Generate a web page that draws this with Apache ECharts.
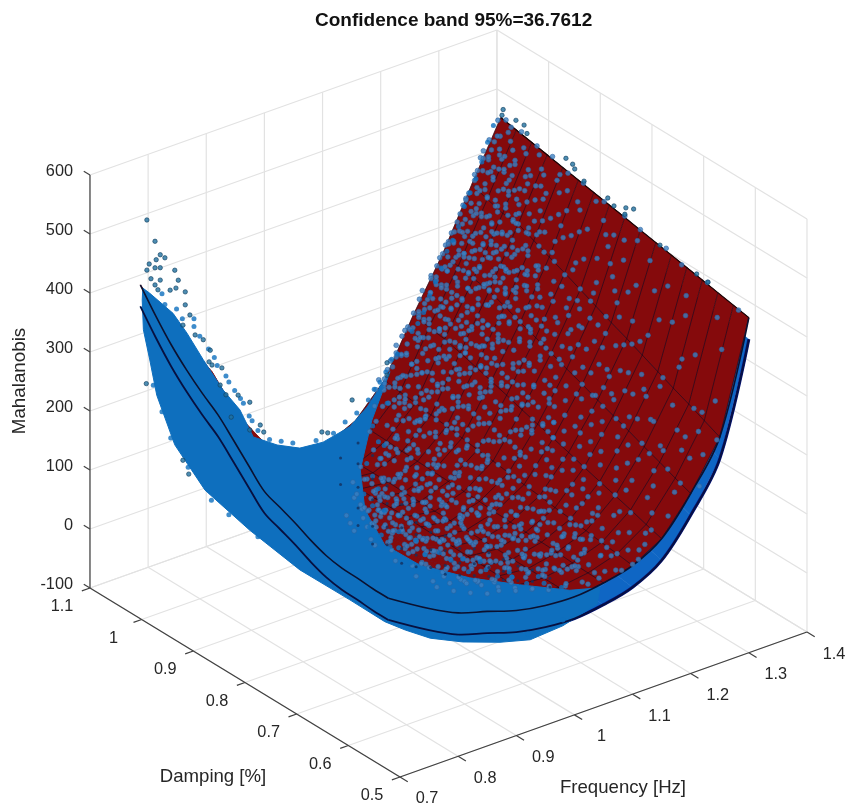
<!DOCTYPE html>
<html><head><meta charset="utf-8">
<style>html,body{margin:0;padding:0;background:#fff}#c{width:845px;height:808px}</style>
<script src="https://cdn.jsdelivr.net/npm/echarts@6/dist/echarts.min.js"></script>
</head><body><div id="c"></div>
<script>
const chartTitle='Confidence band 95%=36.7612';
const confidenceBand=36.7612;
const zTicks=[-100,0,100,200,300,400,500,600];
const dampingTicks=[0.5,0.6,0.7,0.8,0.9,1,1.1];
const frequencyTicks=[0.7,0.8,0.9,1,1.1,1.2,1.3,1.4];
const freqGrid=[0.68,0.75,0.8,0.85,0.9,0.95,1,1.05,1.1,1.15,1.2,1.25,1.3];
const dampGrid=[0.5,0.53,0.56,0.59,0.62,0.65,0.68,0.71,0.74,0.77,0.8,0.83,0.86,0.89,0.92,0.95,0.98];
const surfaceZ=[
[210,210,212,213,218,228,241,252,263,290,318,345,365,388,415,448,485],
[168,174,182,190,199,210,222,234,246,265,270,275,295,315,345,360,375],
[143,154,165,175,186,197,208,218,229,240,245,235,225,225,245,262,270],
[128,134,140,146,152,157,163,169,175,181,187,190,190,190,180,183,185],
[112,114,116,118,120,122,124,126,128,130,132,132,132,130,128,126,125],
[103,104,104,105,106,106,107,107,108,109,109,108,108,107,106,105,104],
[100,100,100,100,100,101,101,101,101,101,101,101,102,102,102,102,102],
[106,107,108,110,111,112,113,114,116,117,118,119,120,121,123,124,125],
[118,122,125,129,133,136,140,143,147,151,154,158,162,165,169,172,176],
[146,154,163,171,179,187,196,204,212,220,229,237,245,253,260,264,270],
[205,215,226,236,247,257,267,278,288,299,309,319,330,340,345,350,355],
[283,295,307,318,330,342,354,365,377,389,401,412,424,436,438,446,455],
[468,473,478,484,489,494,499,504,510,515,520,525,530,536,541,546,551]];
const cloudOutline=[
[.702,1,461],[.714,1,448],[.754,1,400],[.778,1,358],[.806,1,303],[.84,1,240],[.869,1,196],[.892,1,142],[.933,1,114],[.972,1,95],[1.012,1,91],[1.058,1,101],[1.088,1,124],[1.127,1,170],[1.096,1,99],[1.076,1,22],[1.084,1,-49],
[.896,.75,91],[.956,.75,36],[1.042,.75,-16],[1.128,.75,-58],
[.992,.5,114],[1.044,.5,100],[1.039,.5,74],[.98,.5,58],[.924,.5,54],[.872,.5,68],[.808,.5,91],[.752,.5,117],[.709,.5,146],
[.896,.75,-39],[.836,.75,19],[.75,.75,100],
[.886,1,-14],[.809,1,81],[.757,1,176],[.726,1,271],[.714,1,335],[.703,1,390],[.701,1,441]];
const outlierPoints=[
[.709,1,574],[.723,1,533],[.732,1,507],[.713,1,498],[.709,1,489],[.725,1,501],[.723,1,488],[.757,1,472],[.763,1,453],[.74,1,499],[.732,1,485],[.732,1,464],[.716,1,472],[.723,1,459],[.775,1,429],[.728,1,449],[.749,1,441],[.759,1,441],[.783,1,387],[.792,1,350],[.775,1,407],[.771,1,374],[.806,1,337],[.818,1,315],[.816,1,296],[.821,1,289],[.838,1,278],[.835,1,250],[.866,1,222],[.845,1,230],[.886,1,203],[.886,1,156],[.904,1,158],[.91,1,144],[.854,1,189],[1.062,1,145],[1.01,1,109],[1.02,1,104],[1.122,1,166],[1.122,1,187],[.708,1,297],[.771,1,145],[.781,1,118],
[1.304,.98,563],[1.302,.98,554],[1.326,.98,537],[1.34,.98,524],[1.345,.98,508],
[1.3,.854,549],[1.3,.841,546],[1.3,.837,540],[1.3,.819,529],[1.3,.773,525],[1.3,.761,518],[1.3,.738,527],[1.3,.723,533],[1.3,.74,515],[1.3,.672,499],[1.3,.601,488],[1.3,.579,486]];
const cloudEdgeBlue=[
[.72,1,430],[.74,1,420],[.76,1,405],[.77,1,385],[.79,1,365],[.8,1,345],[.815,1,318],[.83,1,285],[.85,1,250],[.86,1,232],[.875,1,205],[.885,1,180],[.9,1,150],[.92,1,128],[.94,1,118],[.96,1,108],[1,1,98],[1.03,1,100],[1.05,1,112],[1.07,1,120],[1.09,1,135],[1.1,1,150],[1.12,1,172],[1.14,1,195],[1.165,1,225],[1.185,1,250],[1.195,1,275],[1.215,1,315],[1.225,1,340],[1.245,1,375],[1.255,1,405],[1.275,1,445],[1.285,1,470],[1.295,1,500],[1.305,1,525],
[.735,1,440],[.79,1,378],[.825,1,300],[.845,1,262],[.87,1,215],[.89,1,170],[1.11,1,158],[1.13,1,190],[1.175,1,235],[1.205,1,295],[1.235,1,355],[1.265,1,425],
[.89,.75,360],[.875,.75,300],[.885,.75,270],[.865,.75,240],[.875,.75,215],[.86,.75,190],[.875,.75,165],[.87,.75,130],[.89,.75,110],[.905,.75,85],[.92,.75,78],[.94,.75,45],[.965,.75,50],[.985,.75,15],[1.01,.75,25],[1.04,.75,-5],[1.06,.75,5],[1.09,.75,-30],[1.115,.75,-40],[1.14,.75,-60],[1.17,.75,-70],[1.2,.75,-88],
[.9,.75,330],[.895,.75,260],[.885,.75,190],[.895,.75,150],[.92,.75,105],[.95,.75,80],[.99,.75,45],[1.03,.75,20],[1.07,.75,-12],[1.11,.75,-30],[1.16,.75,-55],
[.75,1,190],[.735,1,240],[.72,1,290],[.78,1,130],[.82,1,60],[.85,1,25],[.9,1,-30],[.8,.5,100],[.86,.5,80],[.92,.5,65],[.98,.5,68]];
const cloudSpecks=[
[.82,.75,265],[.82,.75,220],[.85,.75,280],[.85,.75,245],[.85,.75,205],[.85,.75,170],[.85,.75,140],[.875,.75,250],[.875,.75,210],[.875,.75,175],[.875,.75,130],[.875,.75,100],[.9,.75,190],[.9,.75,160],[.9,.75,120],[.9,.75,90],[.925,.75,150],[.925,.75,110],[.925,.75,75],[.925,.75,50],[.95,.75,110],[.95,.75,90],[.95,.75,55],[.95,.75,35],[.975,.75,85],[.975,.75,55],[.975,.75,25],[1,.75,70],[1,.75,45],[1,.75,20],[1,.75,5],[1.025,.75,40],[1.025,.75,15],[1.025,.75,-5],[1.05,.75,30],[1.05,.75,5],[1.05,.75,-15],[1.075,.75,15],[1.075,.75,-10],[1.075,.75,-25],[1.1,.75,-5],[1.1,.75,-25],[1.1,.75,-40],[1.125,.75,-25],[1.125,.75,-50],[1.15,.75,-40],[1.15,.75,-60],[1.18,.75,-65],[1.18,.75,-80]];
const cloudLevels=[1.3,1.29,1.28,1.27,1.26,1.25,1.24,1.23,1.22,1.21,1.2,1.18,1.16,1.14,1.12,1.1,1.08,1.06,1.04,1.02,1,.98,.96,.94,.92,.9,.88,.86];
const cloudAtLevel=[
[.52,470,.58,485,.63,488,.66,500,.71,505,.74,512,.78,515,.82,525,.85,526,.88,538,.91,540,.94,548,.96,545,.97,552],
[.55,445,.61,450,.68,472,.73,480,.77,492,.82,497,.86,512,.89,515,.92,525,.95,530,.97,528,.84,505,.75,478],
[.53,405,.6,425,.66,435,.72,455,.79,470,.83,480,.87,488,.9,502,.93,505,.96,515,.98,520,.75,462,.88,495],
[.57,378,.64,400,.7,415,.76,440,.81,452,.85,460,.88,475,.91,478,.94,490,.97,495,.73,425,.83,458],
[.52,330,.59,350,.65,372,.71,395,.75,408,.79,420,.83,435,.87,448,.9,460,.92,465,.95,475,.97,480,.68,380,.85,440,.93,470],
[.55,305,.61,325,.67,350,.72,370,.77,390,.8,398,.84,415,.87,430,.9,438,.93,445,.95,450,.97,455,.75,380,.82,410,.89,436],
[.53,280,.58,298,.64,318,.69,340,.74,360,.78,372,.81,385,.84,395,.87,408,.89,412,.91,415,.93,420,.95,426,.97,432,.71,350,.76,365,.86,402],
[.51,255,.56,270,.62,295,.67,312,.72,335,.77,352,.8,360,.83,372,.86,385,.88,392,.9,395,.92,398,.94,402,.96,408,.98,412,.75,345,.85,378,.91,396],
[.54,250,.6,270,.65,292,.7,310,.74,322,.78,338,.81,348,.84,360,.86,368,.89,375,.91,378,.93,382,.95,385,.97,392,.68,300,.76,330,.83,355,.88,372],
[.57,245,.63,262,.68,285,.72,298,.76,312,.79,322,.82,332,.85,345,.87,352,.9,358,.92,362,.94,366,.96,368,.98,372,.66,275,.74,305,.81,330,.88,356,.95,368],
[.52,212,.58,230,.63,250,.67,262,.71,278,.75,290,.78,302,.81,312,.84,322,.86,330,.88,335,.9,342,.92,345,.94,348,.96,352,.98,355,.69,270,.77,298,.83,320,.89,340,.93,348],
[.55,198,.6,210,.65,232,.69,240,.72,252,.75,262,.78,270,.8,278,.82,284,.84,290,.86,298,.88,302,.9,310,.92,315,.94,318,.96,320,.98,325,.67,238,.74,258,.79,274,.85,295,.89,305,.93,318,.97,322,.62,220],
[.53,170,.58,182,.63,198,.67,208,.7,218,.73,225,.76,235,.78,240,.8,248,.82,252,.84,258,.86,262,.88,270,.9,276,.92,282,.94,285,.96,288,.98,292,.65,205,.72,222,.77,238,.81,250,.85,262,.89,272,.93,285,.97,290,.6,188],
[.52,148,.57,158,.61,168,.64,175,.68,188,.71,190,.74,200,.77,208,.79,212,.81,216,.83,222,.85,228,.87,232,.89,238,.91,240,.93,248,.95,250,.97,256,.66,180,.7,192,.75,205,.8,215,.84,224,.88,234,.92,246,.96,252],
[.51,132,.55,140,.59,148,.62,152,.65,158,.68,165,.71,168,.73,172,.75,178,.77,180,.79,186,.81,186,.83,192,.85,194,.87,200,.89,202,.91,206,.93,208,.95,212,.97,216,.6,146,.64,156,.69,162,.74,175,.78,182,.82,190,.86,196,.9,205,.94,210,.98,215],
[.5,120,.53,122,.56,128,.58,126,.6,132,.62,134,.64,135,.66,140,.68,138,.7,145,.72,144,.74,150,.76,150,.78,155,.8,152,.82,160,.84,158,.86,165,.88,162,.9,168,.92,170,.94,172,.96,175,.98,178,.55,122,.61,128,.67,144,.73,146,.79,150,.85,164,.91,165,.95,178],
[.51,112,.54,120,.57,115,.59,125,.61,120,.63,128,.65,125,.67,130,.69,136,.71,128,.73,138,.75,134,.77,145,.79,140,.81,138,.83,150,.85,145,.87,152,.89,146,.91,155,.93,150,.95,160],
[.52,100,.54,112,.56,98,.58,118,.6,108,.62,120,.64,105,.65,125,.67,112,.69,122,.7,110,.72,130,.74,115,.75,128,.77,118,.79,135,.8,120,.82,130,.84,122,.85,138,.87,125,.89,135,.91,128,.93,140],
[.53,95,.55,110,.57,90,.59,112,.61,100,.63,118,.64,92,.66,108,.68,120,.7,98,.71,115,.73,102,.75,125,.76,95,.78,112,.8,105,.82,125,.83,100,.85,118,.87,108,.89,128,.91,110],
[.54,90,.56,108,.58,85,.6,112,.62,95,.64,118,.65,88,.67,104,.69,115,.71,92,.73,110,.74,85,.76,118,.78,98,.8,112,.81,88,.83,108,.85,120,.87,95,.89,110],
[.55,85,.57,110,.59,92,.61,120,.63,80,.65,105,.67,95,.68,118,.7,85,.72,108,.74,92,.75,122,.77,88,.79,105,.81,115,.83,90,.85,108,.87,98],
[.56,88,.58,112,.6,78,.62,100,.64,118,.66,85,.68,105,.7,92,.71,120,.73,80,.75,108,.77,95,.79,118,.81,85,.83,105,.85,95],
[.57,92,.59,115,.61,80,.63,105,.65,122,.67,88,.69,110,.7,95,.72,125,.74,85,.76,112,.78,98,.8,120,.82,90,.84,108],
[.58,95,.6,118,.62,82,.64,108,.66,125,.68,90,.7,112,.72,98,.73,128,.75,88,.77,115,.79,100,.81,125,.83,92],
[.59,100,.61,122,.63,88,.65,112,.67,130,.69,95,.71,118,.73,105,.75,132,.77,95,.79,120,.81,108],
[.6,108,.62,128,.64,95,.66,120,.68,138,.7,105,.72,128,.74,115,.76,140,.78,110],
[.62,120,.64,145,.66,115,.68,135,.7,155,.72,125,.74,150],
[.63,135,.65,165,.67,140,.69,160,.71,180,.73,150]];
const cloudLevelsB=[1.295,1.285,1.275,1.265,1.255,1.245,1.235,1.225,1.215,1.205,1.19,1.17,1.15,1.13,1.11,1.09,1.07,1.05,1.03,1.01,.99,.97,.95,.93,.91,.89,.87];
const cloudAtLevelB=[
[.79,512,.86,520,.9,532,.93,528,.96,538,.98,548,.71,488],
[.76,475,.81,490,.85,498,.88,512,.91,505,.94,522,.97,530,.64,452],
[.74,440,.8,462,.84,470,.87,480,.9,490,.93,488,.95,505,.97,510,.62,405,.69,430],
[.72,408,.78,430,.82,445,.86,452,.89,468,.91,462,.93,478,.96,482,.98,495,.59,362],
[.7,378,.75,392,.79,410,.83,418,.86,432,.88,425,.9,445,.92,452,.94,448,.96,465,.98,470,.66,358,.54,302],
[.68,345,.73,352,.77,372,.8,380,.83,395,.85,388,.87,412,.9,418,.92,425,.94,425,.96,435,.98,442,.61,312,.5,280],
[.66,312,.71,328,.75,340,.78,358,.81,365,.84,380,.86,372,.88,395,.9,398,.92,408,.94,408,.96,418,.98,425,.63,300,.55,262],
[.64,290,.69,305,.73,318,.76,335,.79,340,.82,358,.85,362,.87,375,.89,372,.91,385,.93,390,.95,392,.97,402,.6,265,.53,240],
[.62,262,.67,278,.71,292,.75,312,.78,320,.8,335,.83,340,.86,352,.88,362,.9,362,.92,372,.94,375,.96,378,.98,385,.57,235,.5,212],
[.6,235,.65,250,.69,268,.73,285,.76,292,.79,310,.82,315,.84,332,.86,335,.88,345,.9,345,.92,355,.94,358,.96,358,.98,368,.55,218],
[.52,200,.56,215,.59,218,.63,235,.66,245,.68,252,.71,265,.73,268,.76,285,.78,285,.8,298,.82,300,.84,315,.86,315,.88,325,.9,325,.92,332,.94,332,.96,340,.97,338,.61,232,.7,262,.75,272,.85,322],
[.51,172,.55,182,.58,195,.61,200,.64,212,.66,218,.69,228,.71,236,.73,240,.75,252,.77,252,.79,268,.81,262,.83,280,.85,275,.87,288,.89,285,.91,298,.93,298,.95,305,.97,305,.68,222,.74,248,.8,262,.86,285,.9,292,.94,305],
[.52,150,.56,158,.59,172,.62,175,.65,188,.67,190,.69,205,.71,205,.73,218,.75,215,.77,230,.79,228,.81,245,.83,240,.85,252,.87,255,.89,265,.91,262,.93,272,.95,270,.97,275,.72,210,.78,235,.84,245,.88,258,.92,268,.96,272],
[.51,138,.54,142,.57,155,.6,152,.63,168,.65,165,.67,178,.69,172,.71,188,.73,182,.75,195,.77,190,.79,202,.81,200,.83,215,.85,210,.87,222,.89,215,.91,232,.93,225,.95,238,.97,232,.62,160,.7,180,.76,198,.82,205,.86,218,.9,222,.94,232,.98,240],
[.5,125,.52,130,.55,128,.57,140,.6,135,.62,148,.64,142,.66,155,.68,148,.7,162,.72,150,.74,168,.76,158,.78,175,.8,165,.82,180,.84,172,.86,188,.88,178,.9,195,.92,182,.94,202,.96,188,.98,205,.59,142,.67,152,.73,160,.79,172,.85,178,.91,192,.95,195,.83,168,.89,180],
[.51,108,.53,122,.55,112,.57,128,.59,118,.61,132,.63,115,.65,135,.67,122,.69,142,.71,125,.73,148,.75,128,.77,152,.79,132,.81,155,.83,138,.85,160,.87,142,.89,165,.91,145,.93,168,.95,150,.97,172,.6,122,.66,128,.72,135,.78,140,.84,148,.9,155,.94,162],
[.52,108,.54,95,.56,118,.58,100,.6,125,.62,102,.63,132,.65,108,.67,135,.69,112,.71,138,.73,110,.75,142,.77,115,.79,145,.81,120,.83,148,.85,122,.87,150,.89,125,.91,155,.93,130,.95,158,.59,112,.66,118,.72,125,.78,128,.84,135,.9,142],
[.53,88,.55,118,.57,92,.59,122,.61,95,.63,128,.65,98,.67,130,.69,100,.7,132,.72,95,.74,135,.76,105,.78,138,.8,108,.82,135,.84,110,.86,140,.88,112,.9,142,.92,118,.94,145,.6,108,.66,112,.72,115,.78,118,.84,125,.88,128],
[.53,118,.55,85,.57,122,.59,88,.61,125,.63,90,.65,128,.67,92,.69,132,.71,88,.73,130,.75,92,.77,135,.79,95,.81,132,.83,98,.85,138,.87,100,.89,135,.91,105,.93,140,.6,105,.66,108,.72,110,.78,112,.84,115],
[.54,120,.56,82,.58,125,.6,85,.62,128,.64,80,.66,130,.68,85,.7,132,.72,80,.74,128,.76,88,.78,132,.8,85,.82,130,.84,92,.86,135,.88,95,.9,132,.61,105,.67,108,.73,105,.79,110,.85,112],
[.55,122,.57,80,.59,128,.61,78,.63,130,.65,82,.67,132,.69,78,.71,130,.73,85,.75,135,.77,80,.79,132,.81,88,.83,135,.85,85,.87,130,.89,95,.62,105,.68,100,.74,108,.8,105,.86,108],
[.56,125,.58,78,.6,128,.62,75,.64,132,.66,80,.68,130,.7,75,.72,135,.74,82,.76,132,.78,78,.8,135,.82,82,.84,130,.86,85,.88,128,.63,102,.69,105,.75,100,.81,108,.85,105],
[.57,128,.59,80,.61,130,.63,75,.65,135,.67,78,.69,132,.71,82,.73,138,.75,78,.77,132,.79,85,.81,135,.83,80,.85,130,.87,88,.64,105,.7,108,.76,105,.82,110],
[.57,130,.59,82,.61,132,.63,78,.65,138,.67,80,.69,135,.71,85,.73,140,.75,80,.77,135,.79,88,.81,138,.83,82,.85,132,.62,108,.68,110,.74,108,.8,112],
[.58,132,.6,85,.62,138,.64,80,.66,140,.68,85,.7,138,.72,88,.74,142,.76,85,.78,138,.8,90,.82,135,.84,88,.63,110,.69,112,.75,110,.81,115],
[.59,138,.61,90,.63,142,.65,85,.67,145,.69,90,.71,140,.73,95,.75,148,.77,92,.79,140,.81,98,.64,115,.7,118,.76,118],
[.6,142,.62,98,.64,148,.66,95,.68,155,.7,100,.72,150,.74,105,.76,158,.78,108,.65,122,.71,128],
[.62,140,.64,112,.66,158,.68,118,.7,170,.72,122,.74,172,.76,130,.65,135,.71,150]];
const cloudLevelsC=[1.28,1.27,1.26,1.25,1.24,1.23,1.22,1.21,1.2,1.19,1.18,1.17,1.16,1.15,1.14,1.12,1.1,1.085,1.065,1.045,1.025,1.005,.985,.965,.945,.925];
const cloudAtLevelC=[
[.89,490,.91,495,.93,512,.95,508,.97,522,.96,505,.94,498],
[.87,462,.9,480,.92,470,.94,495,.96,488,.98,505],
[.86,435,.88,455,.9,445,.92,472,.94,462,.96,482,.98,475,.95,480],
[.85,420,.87,440,.89,425,.91,440,.93,435,.95,448,.97,445,.9,435],
[.84,388,.86,410,.88,400,.9,415,.92,408,.94,425,.96,420,.98,435,.93,418],
[.83,365,.85,385,.87,375,.89,392,.91,385,.93,400,.95,395,.97,408,.92,392],
[.82,345,.84,368,.86,355,.88,375,.9,365,.92,382,.94,375,.96,388,.98,385],
[.8,325,.83,340,.85,355,.87,345,.89,360,.91,352,.93,370,.95,362,.97,378],
[.79,305,.81,318,.83,308,.85,335,.87,322,.89,342,.91,335,.93,350,.95,345,.97,355,.9,346],
[.78,292,.8,305,.82,295,.84,318,.86,305,.88,325,.9,315,.92,332,.94,325,.96,340,.98,338],
[.76,265,.79,278,.81,268,.83,292,.85,282,.87,300,.89,292,.91,310,.93,302,.95,318,.97,315],
[.74,240,.77,255,.79,245,.81,270,.83,258,.85,282,.87,268,.89,290,.91,280,.93,300,.95,292,.97,305],
[.72,222,.75,232,.77,225,.79,248,.81,235,.83,260,.85,245,.87,272,.89,258,.91,280,.93,270,.95,288,.97,280],
[.71,205,.73,215,.75,205,.77,228,.79,215,.81,240,.83,228,.85,252,.87,238,.89,262,.91,248,.93,268,.95,260,.97,270],
[.72,195,.74,205,.76,195,.78,218,.8,205,.82,228,.84,215,.86,238,.88,225,.9,245,.92,232,.94,255,.96,240,.98,252],
[.74,170,.76,182,.78,172,.8,192,.82,180,.84,200,.86,188,.88,208,.9,192,.92,215,.94,200,.96,222,.98,208],
[.78,148,.8,162,.82,150,.84,168,.86,155,.88,172,.9,158,.92,178,.94,165,.96,182,.98,170],
[.58,125,.62,108,.66,130,.7,115,.74,140,.78,120,.82,148,.86,128,.9,155,.94,135,.98,165],
[.56,118,.6,95,.64,125,.68,102,.72,132,.76,108,.8,140,.84,115,.88,148,.92,122,.96,155],
[.55,110,.59,85,.63,118,.67,92,.71,128,.75,98,.79,132,.83,100,.87,138,.91,105],
[.55,118,.59,80,.63,125,.67,88,.71,130,.75,92,.79,135,.83,95,.87,138],
[.56,122,.6,78,.64,128,.68,82,.72,132,.76,88,.8,138,.84,90,.88,130],
[.57,128,.61,75,.65,132,.69,80,.73,135,.77,85,.81,138,.85,88],
[.58,130,.62,78,.66,135,.7,82,.74,138,.78,88,.82,140],
[.59,132,.63,78,.67,138,.71,85,.75,142,.79,90,.83,135],
[.6,138,.64,85,.68,142,.72,90,.76,145,.8,95]];
const cloudLevelsD=[1.27,1.255,1.24,1.225,1.21,1.195,1.18,1.165,1.15,1.135,1.12,1.105,1.09];
const cloudAtLevelD=[
[.93,482,.95,490,.97,500,.98,492],
[.9,430,.92,445,.94,438,.96,455,.97,448,.98,460],
[.89,400,.91,412,.93,405,.95,420,.96,428,.97,418,.98,432],
[.88,368,.9,380,.92,372,.93,388,.95,380,.96,395,.97,388,.98,400],
[.87,342,.89,352,.9,345,.92,360,.93,352,.95,368,.96,360,.97,375,.98,368],
[.86,315,.88,328,.89,318,.91,335,.92,325,.93,342,.95,332,.96,348,.97,340,.98,350],
[.85,288,.87,300,.88,290,.9,312,.91,300,.92,318,.94,308,.95,325,.96,315,.97,328,.98,320],
[.84,265,.86,275,.87,268,.89,285,.9,275,.91,292,.93,282,.94,298,.95,288,.96,302,.97,295,.98,305],
[.83,235,.85,250,.86,240,.88,258,.89,248,.9,265,.92,255,.93,272,.94,262,.95,278,.96,268,.97,280,.98,272],
[.83,215,.85,225,.86,218,.88,235,.89,225,.9,242,.92,232,.93,248,.94,238,.95,252,.96,245,.97,255,.98,248],
[.84,195,.86,205,.87,198,.89,212,.9,202,.91,218,.93,208,.94,222,.95,212,.96,225,.97,218,.98,228],
[.85,172,.87,182,.88,175,.9,188,.91,178,.92,195,.94,185,.95,198,.96,188,.97,202,.98,192],
[.87,150,.89,162,.9,152,.92,168,.93,158,.94,172,.95,162,.96,178,.97,168,.98,180]];

// Fixed view of the 3-D box: frequency, damping and Mahalanobis to the page plane.
const frontCorner=[400,777], pxPerHz=[581.4,-207.1], pxPerDamping=[-516.7,-315], pxPerUnitZ=-0.59;
function project(f,d,z){
  return [frontCorner[0]+(f-0.7)*pxPerHz[0]+(d-0.5)*pxPerDamping[0],
          frontCorner[1]+(f-0.7)*pxPerHz[1]+(d-0.5)*pxPerDamping[1]+(z+100)*pxPerUnitZ];
}
function shapeSeries(kind,shapes,style,smooth){
  return {type:'custom',coordinateSystem:'cartesian2d',silent:true,clip:false,animation:false,
    encode:{x:0,y:1},data:shapes.map((_,i)=>[i,0]),
    renderItem(p,api){
      const s=shapes[api.value(0)];
      return {type:kind,shape:{points:s.map(q=>api.coord(project(q[0],q[1],q[2]))),smooth:smooth||0},style};
    }};
}
function textSeries(items){
  return {type:'custom',coordinateSystem:'cartesian2d',silent:true,clip:false,animation:false,
    encode:{x:0,y:1},data:items.map((_,i)=>[i,0]),
    renderItem(p,api){
      const t=items[api.value(0)],c=api.coord(t.at);
      return {type:'text',x:c[0],y:c[1],rotation:t.rot||0,
        style:{text:t.text,fill:t.color||'#262626',font:(t.size||16.3)+'px "Liberation Sans"',textAlign:t.align||'center',textVerticalAlign:'middle'}};
    }};
}
const fMax=1.4, dMax=1.1, zMax=600;
const wallLines=[];
frequencyTicks.forEach(f=>{wallLines.push([[f,.5,-100],[f,dMax,-100]]);wallLines.push([[f,dMax,-100],[f,dMax,zMax]]);});
dampingTicks.forEach(d=>{wallLines.push([[.7,d,-100],[fMax,d,-100]]);wallLines.push([[fMax,d,-100],[fMax,d,zMax]]);});
zTicks.forEach(z=>{wallLines.push([[.7,dMax,z],[fMax,dMax,z]]);wallLines.push([[fMax,dMax,z],[fMax,.5,z]]);});
const axisLines=[[[.7,dMax,-100],[.7,dMax,zMax]],[[.7,.5,-100],[.7,dMax,-100]],[[.7,.5,-100],[fMax,.5,-100]]];
zTicks.forEach(z=>axisLines.push([[.7,dMax,z],[.7,dMax+.012,z]]));
dampingTicks.forEach(d=>axisLines.push([[.7,d,-100],[.686,d,-100]]));
frequencyTicks.forEach(f=>axisLines.push([[f,.5,-100],[f,.485,-100]]));

function sheet(offset){
  const cells=[];
  for(let i=freqGrid.length-2;i>=0;i--)for(let k=dampGrid.length-2;k>=0;k--){
    cells.push([[freqGrid[i],dampGrid[k],surfaceZ[i][k]-offset],[freqGrid[i+1],dampGrid[k],surfaceZ[i+1][k]-offset],
      [freqGrid[i+1],dampGrid[k+1],surfaceZ[i+1][k+1]-offset],[freqGrid[i],dampGrid[k+1],surfaceZ[i][k+1]-offset]]);
  }
  return cells;
}
function edges(offset){
  return [freqGrid.map((f,i)=>[f,dampGrid[0],surfaceZ[i][0]-offset]),
          dampGrid.map((d,k)=>[freqGrid[0],d,surfaceZ[0][k]-offset])];
}
const meshLines=[];
dampGrid.forEach((d,k)=>meshLines.push(freqGrid.slice(5).map((f,i)=>[f,d,surfaceZ[i+5][k]])));
freqGrid.slice(5).forEach((f,i)=>meshLines.push(dampGrid.map((d,k)=>[f,d,surfaceZ[i+5][k]])));

const cloudPixels=[];
function addCloud(levels,lists){levels.forEach((f,i)=>{const a=lists[i];for(let j=0;j<a.length;j+=2)cloudPixels.push(project(f,a[j],a[j+1]));});}
addCloud(cloudLevels,cloudAtLevel);
addCloud(cloudLevelsB,cloudAtLevelB);
addCloud(cloudLevelsC,cloudAtLevelC);
addCloud(cloudLevelsD,cloudAtLevelD);
const toPixels=list=>list.map(p=>project(p[0],p[1],p[2]));

const labels=[];
zTicks.forEach(z=>{const p=project(.7,dMax,z);labels.push({text:String(z),at:[73,p[1]-3],align:'right'});});
dampingTicks.forEach(d=>{const p=project(.7,d,-100);labels.push({text:String(d),at:[p[0]-28,p[1]+19]});});
frequencyTicks.forEach(f=>{const p=project(f,.5,-100);labels.push({text:String(f),at:[p[0]+27,p[1]+22]});});
labels.push({text:'Damping [%]',at:[213,777],size:18.6});
labels.push({text:'Frequency [Hz]',at:[623,788],size:18.6});
labels.push({text:'Mahalanobis',at:[20,381],size:18.8,rot:Math.PI/2});

const chart=echarts.init(document.getElementById('c'),null,{renderer:'canvas'});
chart.setOption({
  animation:false,backgroundColor:'#fff',
  title:{text:chartTitle,left:310,top:6,textStyle:{fontFamily:'Liberation Sans',fontSize:19,fontWeight:'bold',color:'#111'}},
  grid:{left:0,right:0,top:0,bottom:0},
  xAxis:{type:'value',min:0,max:845,show:false},
  yAxis:{type:'value',min:0,max:808,inverse:true,show:false},
  series:[
    shapeSeries('polyline',wallLines,{stroke:'#e2e2e2',lineWidth:1.2,fill:null}),
    shapeSeries('polygon',sheet(confidenceBand),{fill:'#0f66c4',stroke:'#0f66c4',lineWidth:.5}),
    shapeSeries('polyline',[edges(confidenceBand)[0]],{stroke:'#06157a',lineWidth:3,fill:null},.35),
    shapeSeries('polygon',sheet(0),{fill:'#850a0c',stroke:'#850a0c',lineWidth:.5}),
    {type:'scatter',silent:true,animation:false,clip:false,symbolSize:4.8,data:cloudPixels,
      itemStyle:{color:'#3d7fc0',borderColor:'#2a639f',borderWidth:.7}},
    shapeSeries('polyline',meshLines,{stroke:'rgba(15,5,25,.62)',lineWidth:.9,fill:null}),
    shapeSeries('polygon',[cloudOutline],{fill:'#0e6fbe',stroke:'#0e6fbe',lineWidth:1}),
    {type:'scatter',silent:true,animation:false,clip:false,symbolSize:5,data:toPixels(cloudEdgeBlue),
      itemStyle:{color:'#0e6fbe'}},
    {type:'scatter',silent:true,animation:false,clip:false,symbolSize:3,data:toPixels(cloudSpecks),
      itemStyle:{color:'#14305e'}},
    shapeSeries('polyline',edges(confidenceBand),{stroke:'#071040',lineWidth:1.8,fill:null},.35),
    shapeSeries('polyline',edges(0),{stroke:'#0b1130',lineWidth:1.6,fill:null},.35),
    shapeSeries('polyline',[[[1.3,.5,surfaceZ[12][0]],[1.3,.98,surfaceZ[12][16]]]],{stroke:'#1a0505',lineWidth:1.2,fill:null}),
    {type:'scatter',silent:true,animation:false,clip:false,symbolSize:4.4,data:toPixels(outlierPoints),
      itemStyle:{color:'#20709f',borderColor:'#123f5f',borderWidth:.8}},
    shapeSeries('polyline',axisLines,{stroke:'#404040',lineWidth:1.2,fill:null}),
    textSeries(labels)
  ]
});
</script></body></html>
